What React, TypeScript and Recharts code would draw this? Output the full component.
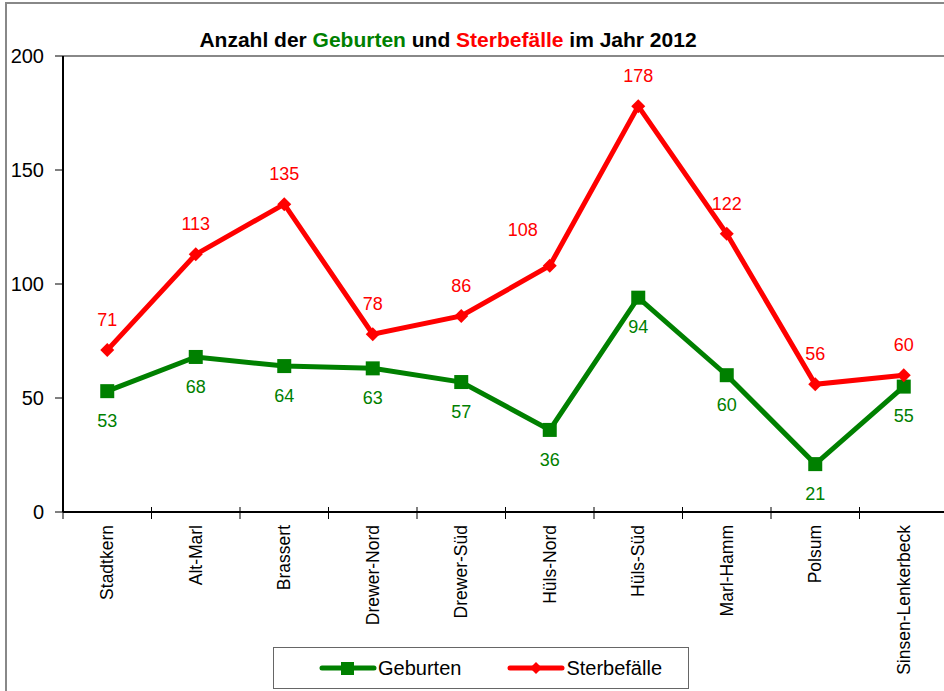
import React from 'react';
import { LineChart, Line, XAxis, YAxis, ReferenceLine, LabelList } from 'recharts';

const districts = [
  'Stadtkern',
  'Alt-Marl',
  'Brassert',
  'Drewer-Nord',
  'Drewer-Süd',
  'Hüls-Nord',
  'Hüls-Süd',
  'Marl-Hamm',
  'Polsum',
  'Sinsen-Lenkerbeck',
];
const geburten = [53, 68, 64, 63, 57, 36, 94, 60, 21, 55];
const sterbefaelle = [71, 113, 135, 78, 86, 108, 178, 122, 56, 60];
const yTicks = [0, 50, 100, 150, 200];

const data = districts.map((name, i) => ({
  name,
  Geburten: geburten[i],
  Sterbefälle: sterbefaelle[i],
}));

const GREEN = '#008000';
const RED = '#ff0000';
const FONT = '"Liberation Sans", Arial, sans-serif';

const CHART_W = 954;
const CHART_H = 691;
const MARGIN = { top: 56, right: 6, bottom: 0, left: 13 };
const Y_W = 50;
const BAND = (CHART_W - MARGIN.left - MARGIN.right - Y_W) / districts.length;

const SquareDot = (props: any) => {
  const { cx, cy } = props;
  if (cx == null || cy == null) return null;
  return <rect x={cx - 7} y={cy - 7} width={14} height={14} fill={GREEN} />;
};

const DiamondDot = (props: any) => {
  const { cx, cy } = props;
  if (cx == null || cy == null) return null;
  const r = 7;
  return (
    <polygon
      points={`${cx},${cy - r} ${cx + r},${cy} ${cx},${cy + r} ${cx - r},${cy}`}
      fill={RED}
    />
  );
};

// red labels sit above the point; the one at Hüls-Nord is nudged left like in the original
const RedLabel = (props: any) => {
  const { x, y, width, value, index } = props;
  const cx = x + (width || 0) / 2;
  const dx = index === 5 ? -27 : 0;
  const dy = index === 5 ? -6 : 0;
  return (
    <text
      x={cx + dx}
      y={y - 24 + dy}
      textAnchor="middle"
      fontSize={18}
      fontFamily={FONT}
      fill={RED}
    >
      {value}
    </text>
  );
};

const CategoryTick = (props: any) => {
  const { x, payload, index } = props;
  const left = x - BAND / 2;
  const top = 512;
  return (
    <g>
      <line x1={left} y1={top - 5} x2={left} y2={top + 7} stroke="#000" strokeWidth={1} />
      {index === districts.length - 1 && (
        <line x1={x + BAND / 2} y1={top - 5} x2={x + BAND / 2} y2={top + 7} stroke="#000" />
      )}
      <text
        x={x}
        y={top + 13}
        transform={`rotate(-90, ${x}, ${top + 13})`}
        textAnchor="end"
        dominantBaseline="central"
        fontSize={17.5}
        fontFamily={FONT}
        fill="#000"
      >
        {payload.value}
      </text>
    </g>
  );
};

const LegendItem = ({ color, label, square }: { color: string; label: string; square: boolean }) => (
  <div style={{ display: 'flex', alignItems: 'center' }}>
    <svg width={58} height={14}>
      <line x1={3} y1={7} x2={55} y2={7} stroke={color} strokeWidth={5} strokeLinecap="round" />
      {square ? (
        <rect x={22} y={1} width={13} height={13} fill={color} />
      ) : (
        <polygon points="29,1 35,7 29,13 23,7" fill={color} />
      )}
    </svg>
    <span style={{ fontSize: 20, marginLeft: 1 }}>{label}</span>
  </div>
);

export default function App() {
  return (
    <div
      style={{
        position: 'fixed',
        left: 0,
        top: 0,
        width: 944,
        height: 691,
        overflow: 'hidden',
        background: '#fff',
        fontFamily: FONT,
      }}
    >
      <div
        style={{
          position: 'absolute',
          left: 5,
          top: 2,
          width: 1200,
          height: 1200,
          border: '2px solid #888',
          boxSizing: 'border-box',
        }}
      />
      <div
        style={{
          position: 'absolute',
          left: 0,
          top: 28,
          width: 896,
          textAlign: 'center',
          fontSize: 21,
          fontWeight: 'bold',
          color: '#000',
        }}
      >
        Anzahl der <span style={{ color: GREEN }}>Geburten</span> und{' '}
        <span style={{ color: RED }}>Sterbefälle</span> im Jahr 2012
      </div>
      <div style={{ position: 'absolute', left: 0, top: 0 }}>
        <LineChart width={CHART_W} height={CHART_H} data={data} margin={MARGIN}>
          <XAxis
            dataKey="name"
            scale="band"
            interval={0}
            height={CHART_H - 512}
            tickLine={false}
            tick={<CategoryTick />}
            axisLine={{ stroke: '#000', strokeWidth: 2 }}
          />
          <YAxis
            width={Y_W}
            domain={[0, 200]}
            ticks={yTicks}
            tickSize={8}
            tickMargin={11}
            tickLine={{ stroke: '#000' }}
            axisLine={{ stroke: '#000', strokeWidth: 2 }}
            tick={{ fontSize: 20, fill: '#000', fontFamily: FONT }}
          />
          <ReferenceLine y={200} stroke="#888" strokeWidth={2} />
          <Line
            type="linear"
            dataKey="Geburten"
            stroke={GREEN}
            strokeWidth={5}
            dot={<SquareDot />}
            activeDot={false}
            isAnimationActive={false}
          >
            <LabelList
              dataKey="Geburten"
              position="bottom"
              offset={23}
              fill={GREEN}
              fontSize={18}
              fontFamily={FONT}
            />
          </Line>
          <Line
            type="linear"
            dataKey="Sterbefälle"
            stroke={RED}
            strokeWidth={5}
            dot={<DiamondDot />}
            activeDot={false}
            isAnimationActive={false}
          >
            <LabelList dataKey="Sterbefälle" content={<RedLabel />} />
          </Line>
        </LineChart>
      </div>
      <div
        style={{
          position: 'absolute',
          left: 273,
          top: 647,
          width: 416,
          height: 42,
          border: '1px solid #666',
          boxSizing: 'border-box',
          display: 'flex',
          alignItems: 'center',
          gap: 46,
          paddingLeft: 45,
          background: '#fff',
        }}
      >
        <LegendItem color={GREEN} label="Geburten" square />
        <LegendItem color={RED} label="Sterbefälle" square={false} />
      </div>
    </div>
  );
}
